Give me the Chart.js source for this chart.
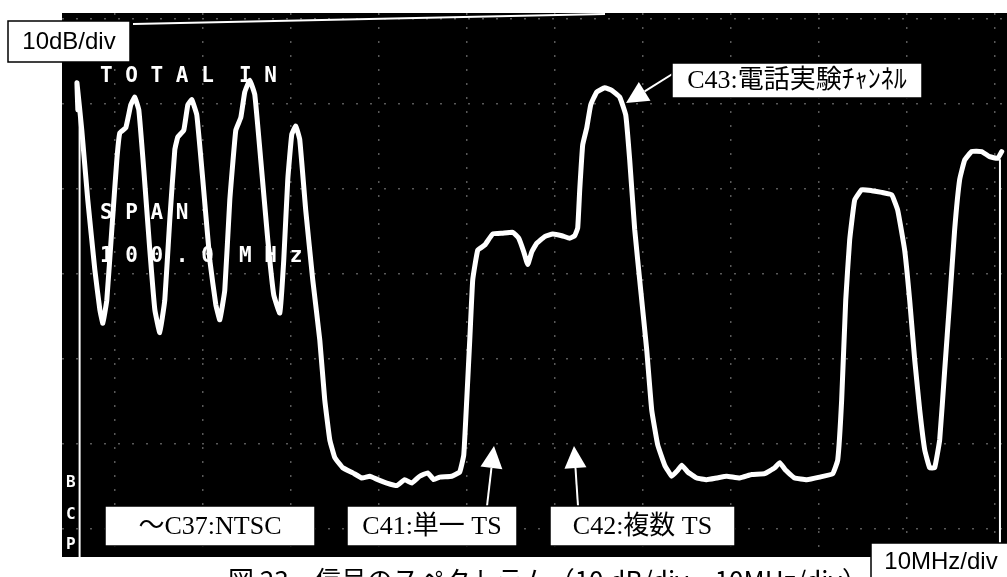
<!DOCTYPE html>
<html>
<head>
<meta charset="utf-8">
<script src="https://cdn.jsdelivr.net/npm/chart.js@4.4.1/dist/chart.umd.min.js"></script>
<style>
  body { margin: 0; background: #fff; }
  #wrap { width: 1007px; height: 577px; position: relative; }
</style>
</head>
<body>
<div id="wrap"><canvas id="canvas"></canvas></div>
<script>
// spectrum trace: frequency offset (MHz) and level (dB)
const freqMHz = [
  -4.2, -4.3, -3.75, -3.07, -2.27, -1.7, -1.36, -0.91, -0.34,
  0.23, 0.57, 1.25, 1.82, 2.27, 2.73, 3.3, 3.98, 4.55, 5.11,
  5.68, 6.25, 6.82, 7.16, 7.84, 8.3, 8.75, 9.32, 10.0, 10.8,
  11.48, 11.93, 12.5, 13.07, 13.75, 14.32, 14.77, 15.34, 15.91, 16.59,
  17.39, 18.07, 18.75, 19.2, 19.66, 20.11, 20.57, 21.02, 21.7, 22.5,
  23.3, 23.86, 24.43, 25.0, 25.91, 27.05, 28.07, 28.98, 29.89, 30.91,
  32.05, 32.95, 33.75, 34.66, 35.57, 36.25, 36.93, 38.3, 39.2, 39.66,
  40.0, 40.34, 40.68, 41.25, 42.05, 42.95, 44.09, 45.23, 45.91, 46.48,
  46.93, 47.39, 47.95, 48.86, 49.77, 50.8, 51.7, 52.27, 52.61, 52.84,
  53.18, 53.64, 54.09, 54.77, 55.68, 56.48, 57.39, 58.07, 58.52, 59.09,
  59.77, 60.45, 61.02, 61.7, 62.5, 63.3, 63.98, 64.43, 65.11, 66.14,
  67.27, 68.41, 69.55, 71.02, 72.39, 73.86, 75.0, 75.57, 76.25, 77.27,
  78.64, 80.11, 81.59, 82.16, 82.61, 83.07, 83.52, 84.09, 84.89, 86.02,
  87.16, 88.3, 88.98, 89.77, 90.34, 90.91, 91.48, 92.05, 92.61, 93.18,
  93.75, 94.32, 94.89, 95.45, 96.02, 96.59, 97.39, 98.52, 99.43, 100.34,
  100.8
];
const levelDb = [
  -10.7, -7.5, -13.1, -21.3, -29.5, -34.2, -35.8, -33.1, -24.8,
  -16.6, -13.4, -12.8, -10.1, -9.2, -10.7, -17.8, -27.2, -34.2, -36.9,
  -33.1, -23.6, -15.4, -13.9, -13.1, -10.1, -9.5, -11.3, -18.9, -28.4,
  -33.6, -35.4, -31.9, -21.3, -13.1, -11.6, -8.6, -7.2, -8.9, -16.6,
  -26.0, -32.5, -34.6, -28.4, -18.9, -13.6, -12.6, -14.2, -22.5, -30.7,
  -37.8, -44.8, -49.5, -51.6, -52.8, -53.4, -54.0, -53.8, -54.2, -54.6,
  -54.9, -54.2, -54.6, -53.8, -53.4, -54.2, -53.9, -53.8, -53.3, -51.3,
  -44.8, -37.8, -30.7, -27.2, -26.6, -25.3, -25.2, -25.1, -25.8, -27.4,
  -28.9, -27.4, -26.4, -25.6, -25.3, -25.5, -25.8, -25.5, -24.6, -20.1,
  -14.8, -12.8, -10.1, -8.6, -8.1, -8.4, -9.2, -11.3, -16.6, -24.8,
  -31.9, -38.9, -46.0, -50.1, -52.5, -53.8, -53.1, -52.5, -53.3, -54.0,
  -54.2, -54.0, -53.8, -54.0, -53.6, -53.5, -52.8, -52.2, -53.1, -54.0,
  -54.2, -53.9, -53.5, -51.9, -44.8, -33.1, -26.0, -21.3, -20.1, -20.2,
  -20.4, -20.7, -22.5, -27.2, -33.1, -40.1, -46.0, -50.7, -52.8, -52.8,
  -49.5, -41.3, -33.1, -24.8, -18.9, -16.6, -15.6, -15.6, -16.2, -16.4,
  -15.6
];

// thin vertical sweep edges at both ends of the screen
const edgeFreq = [-4.0, -4.0, -4.0, 100.6, 100.6];
const edgeLevel = [-63.3, -10.7, null, -16.5, -63.3];

// graticule: 10 MHz/div, 10 dB/div
const freqTicks = [0, 10, 20, 30, 40, 50, 60, 70, 80, 90, 100];
const levelTicks = [0, -10, -20, -30, -40, -50, -60];

const trace = freqMHz.map((f, i) => ({ x: f, y: levelDb[i] }));
const edges = edgeFreq.map((f, i) => ({ x: f, y: edgeLevel[i] }));

const screenBg = {
  id: "screenBg",
  beforeDraw(chart) {
    const { ctx, chartArea: a } = chart;
    ctx.save();
    ctx.fillStyle = "#000";
    ctx.fillRect(a.left, a.top, a.right - a.left, a.bottom - a.top);
    ctx.restore();
  },
  beforeDatasetsDraw(chart) {
    // on-screen readouts of the analyzer
    const { ctx } = chart;
    ctx.save();
    ctx.fillStyle = "#fff";
    ctx.font = "bold 21px 'DejaVu Sans Mono'";
    ctx.textBaseline = "middle";
    ctx.fillText("T O T A L  I N", 100, 77);
    ctx.fillText("S P A N", 100, 214);
    ctx.fillText("1 0 0 . 0  M H z", 100, 257);
    ctx.font = "bold 16px 'DejaVu Sans Mono'";
    ctx.fillText("B", 66, 483);
    ctx.fillText("C", 66, 515);
    ctx.fillText("P", 66, 545);
    // scan edge line along the top of the photo
    ctx.strokeStyle = "#fff";
    ctx.lineWidth = 2;
    ctx.beginPath();
    ctx.moveTo(133, 24);
    ctx.lineTo(605, 14);
    ctx.stroke();
    ctx.restore();
  },
};

function box(ctx, x, y, w, h, text, font) {
  ctx.fillStyle = "#fff";
  ctx.fillRect(x, y, w, h);
  ctx.strokeStyle = "#000";
  ctx.lineWidth = 1.5;
  ctx.strokeRect(x, y, w, h);
  ctx.fillStyle = "#000";
  ctx.font = font;
  ctx.textAlign = "center";
  ctx.textBaseline = "middle";
  ctx.fillText(text, x + w / 2, y + h / 2 + 1);
}

function arrow(ctx, x1, y1, x2, y2) {
  const ang = Math.atan2(y2 - y1, x2 - x1);
  const len = 22, half = 11;
  const bx = x2 - len * Math.cos(ang), by = y2 - len * Math.sin(ang);
  ctx.strokeStyle = "#fff";
  ctx.fillStyle = "#fff";
  ctx.lineWidth = 2;
  ctx.beginPath();
  ctx.moveTo(x1, y1);
  ctx.lineTo(bx, by);
  ctx.stroke();
  ctx.beginPath();
  ctx.moveTo(x2, y2);
  ctx.lineTo(bx + half * Math.sin(ang), by - half * Math.cos(ang));
  ctx.lineTo(bx - half * Math.sin(ang), by + half * Math.cos(ang));
  ctx.closePath();
  ctx.fill();
}

const labels = {
  id: "labels",
  afterDraw(chart) {
    const { ctx } = chart;
    const serif = "'Liberation Serif', 'Noto Sans CJK JP'";
    ctx.save();
    arrow(ctx, 674, 73, 626, 103);
    arrow(ctx, 487, 506, 494, 446);
    arrow(ctx, 578, 506, 574, 446);
    box(ctx, 8, 21, 122, 41, "10dB/div", "24px 'Liberation Sans'");
    box(ctx, 871, 543, 140, 36, "10MHz/div", "24px 'Liberation Sans'");
    box(ctx, 672, 63, 250, 35, "C43:電話実験ﾁｬﾝﾈﾙ", "26px " + serif);
    box(ctx, 105, 506, 210, 40, "～C37:NTSC", "26px " + serif);
    box(ctx, 347, 506, 170, 40, "C41:単一 TS", "26px " + serif);
    box(ctx, 550, 506, 185, 40, "C42:複数 TS", "26px " + serif);
    // figure caption, cut off by the bottom of the scan
    ctx.fillStyle = "#000";
    ctx.font = "26px 'Noto Sans CJK JP'";
    ctx.textAlign = "left";
    ctx.textBaseline = "alphabetic";
    ctx.fillText("図 23　信号のスペクトラム（10 dB/div，10MHz/div）", 228, 590);
    ctx.restore();
  },
};

const grid = {
  display: true,
  color: "rgba(255,255,255,0.35)",
  lineWidth: 1.5,
  drawTicks: false,
};

new Chart(document.getElementById("canvas"), {
  type: "scatter",
  data: {
    datasets: [
      {
        label: "spectrum",
        data: trace,
        showLine: true,
        borderColor: "#fff",
        borderWidth: 5,
        borderJoinStyle: "round",
        borderCapStyle: "round",
        pointRadius: 0,
        tension: 0.1,
      },
      {
        label: "edges",
        data: edges,
        showLine: true,
        spanGaps: false,
        borderColor: "#fff",
        borderWidth: 2,
        pointRadius: 0,
      },
    ],
  },
  options: {
    responsive: true,
    maintainAspectRatio: false,
    animation: false,
    layout: { padding: { left: 62, top: 13, right: 0, bottom: 20 } },
    plugins: { legend: { display: false }, tooltip: { enabled: false } },
    scales: {
      x: {
        type: "linear",
        min: -6.0,
        max: 101.4,
        afterBuildTicks: (s) => { s.ticks = freqTicks.map((v) => ({ value: v })); },
        ticks: { display: false },
        grid: grid,
        border: { display: false, dash: [2, 12] },
      },
      y: {
        type: "linear",
        min: -63.3,
        max: 0.7,
        afterBuildTicks: (s) => { s.ticks = levelTicks.map((v) => ({ value: v })); },
        ticks: { display: false },
        grid: grid,
        border: { display: false, dash: [2, 12] },
      },
    },
  },
  plugins: [screenBg, labels],
});
</script>
</body>
</html>
